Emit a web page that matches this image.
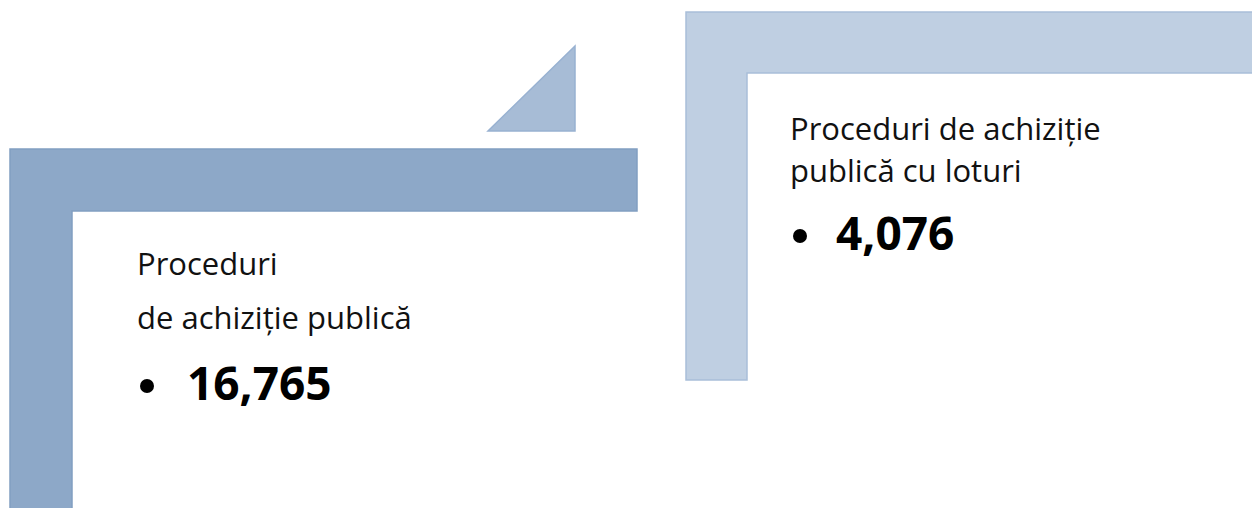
<!DOCTYPE html>
<html>
<head>
<meta charset="utf-8">
<script src="https://cdn.jsdelivr.net/npm/d3@7"></script>
<style>
  body { margin: 0; background: #fff; }
  svg { display: block; }
</style>
</head>
<body>
<div id="chart"></div>
<script>
// values shown in the two boxes
const labels = [
  ["Proceduri", "de achiziție publică"],
  ["Proceduri de achiziție", "publică cu loturi"]
]
const counts = [16765, 4076]

const width = 1252
const height = 508
const fmt = d3.format(",")

const svg = d3
  .select("#chart")
  .append("svg")
  .attr("width", width)
  .attr("height", height)

// layout of each L-shaped frame (SmartArt style)
const frames = [
  { x: 10, y: 149, w: 627, h: 380, t: 62, fill: "#8da8c8", stroke: "#819ec1",
    tx: 137, lines: [275, 329], numY: 400, bulletX: 147, numX: 187 },
  { x: 686, y: 12, w: 600, h: 368, t: 61, fill: "#bfcfe2", stroke: "#a9bfd9",
    tx: 790, lines: [140, 182], numY: 250, bulletX: 800, numX: 836 }
]

const lShape = (f) =>
  `M${f.x},${f.y} H${f.x + f.w} V${f.y + f.t} H${f.x + f.t} V${f.y + f.h} H${f.x} Z`

svg
  .selectAll("path.frame")
  .data(frames)
  .enter()
  .append("path")
  .attr("class", "frame")
  .attr("d", lShape)
  .style("fill", (d) => d.fill)
  .style("stroke", (d) => d.stroke)
  .style("stroke-width", 1.5)

// little triangle between the frames
svg
  .append("path")
  .attr("d", "M488,131 L575,131 L575,46 Z")
  .style("fill", "#a7bcd6")
  .style("stroke", "#98b1d1")
  .style("stroke-width", 1.5)

//text blocks
frames.forEach((f, i) => {
  labels[i].forEach((line, j) => {
    svg
      .append("text")
      .attr("x", f.tx)
      .attr("y", f.lines[j])
      .text(line)
      .style("font-family", "'Open Sans', sans-serif")
      .style("font-size", "31px")
      .style("fill", "#111")
  })

  svg
    .append("circle")
    .attr("cx", f.bulletX)
    .attr("cy", f.numY - 14)
    .attr("r", 7)
    .style("fill", "#000")

  svg
    .append("text")
    .attr("x", f.numX)
    .attr("y", f.numY)
    .text(fmt(counts[i]))
    .style("font-family", "'Open Sans', sans-serif")
    .style("font-weight", "bold")
    .style("font-size", "46px")
    .style("fill", "#000")
})
</script>
</body>
</html>
